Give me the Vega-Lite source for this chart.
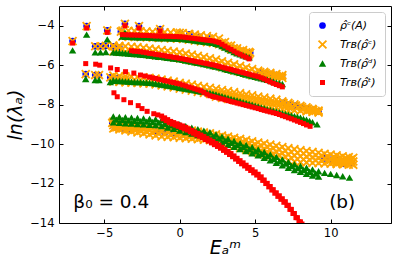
{
"$schema":"https://vega.github.io/schema/vega-lite/v6.json",
"width":332,"height":217,
"autosize":{"type":"none"},
"padding":{"left":59,"top":6,"right":7,"bottom":46},
"config":{"view":{"stroke":null},"font":"DejaVu Sans"},
"resolve":{"axis":{"x":"independent","y":"independent"}},
"layer":[
{
"data":{"values":[
{"s":"a","x":-7.1,"y":-4.78},{"s":"a","x":-6.17,"y":-4.02},{"s":"a","x":-4.8,"y":-4.24},{"s":"a","x":-3.63,"y":-3.9},{"s":"a","x":-2.7,"y":-4.02},{"s":"a","x":-1.3,"y":-4.17},{"s":"a","x":-3.9,"y":-4.3},{"s":"a","x":0,"y":-4.36},{"s":"a","x":0.64,"y":-4.44},{"s":"a","x":1.3,"y":-4.56},{"s":"a","x":1.96,"y":-4.65},{"s":"a","x":3.57,"y":-5.15},{"s":"a","x":4.12,"y":-5.29},{"s":"a","x":4.67,"y":-5.37},
{"s":"a","x":-5.6,"y":-5.04},{"s":"a","x":-5.25,"y":-5.04},{"s":"a","x":-4.9,"y":-5.02},{"s":"a","x":-4.4,"y":-5.05},{"s":"a","x":-4.0,"y":-5.1},{"s":"a","x":5.33,"y":-6.35},{"s":"a","x":5.7,"y":-6.4},{"s":"a","x":6.0,"y":-6.45},{"s":"a","x":6.35,"y":-6.5},{"s":"a","x":6.77,"y":-6.56},
{"s":"a","x":-6.23,"y":-6.45},{"s":"a","x":-5.6,"y":-6.5},{"s":"a","x":-5.35,"y":-6.5},{"s":"a","x":-4.6,"y":-6.62},{"s":"a","x":-4.1,"y":-6.65},{"s":"a","x":-3.6,"y":-6.72},{"s":"a","x":6.87,"y":-7.91},{"s":"a","x":7.3,"y":-7.98},{"s":"a","x":7.7,"y":-8.05},{"s":"a","x":8.1,"y":-8.12},{"s":"a","x":8.5,"y":-8.2},{"s":"a","x":8.85,"y":-8.26},{"s":"a","x":9.19,"y":-8.34},
{"s":"a","x":-4.47,"y":-8.93},{"s":"a","x":-4.2,"y":-9.0},{"s":"a","x":-3.9,"y":-8.98},{"s":"a","x":-3.6,"y":-9.05},{"s":"a","x":-3.3,"y":-9.1},{"s":"a","x":-3.0,"y":-9.12},{"s":"a","x":-2.75,"y":-9.18},{"s":"a","x":-4.3,"y":-9.15},{"s":"a","x":-3.8,"y":-9.2},{"s":"a","x":-3.3,"y":-9.25},{"s":"a","x":-1.5,"y":-9.35},{"s":"a","x":-1.0,"y":-9.42},{"s":"a","x":-0.5,"y":-9.48},{"s":"a","x":9.6,"y":-10.72},{"s":"a","x":10.0,"y":-10.8},{"s":"a","x":10.3,"y":-10.72},{"s":"a","x":10.4,"y":-10.9},{"s":"a","x":10.8,"y":-10.88},{"s":"a","x":11.1,"y":-10.8},{"s":"a","x":11.4,"y":-10.95},{"s":"a","x":10.9,"y":-11.0},

{"s":"b","x":-7.1,"y":-4.78},{"s":"b","x":-6.17,"y":-4.02},{"s":"b","x":-4.8,"y":-4.24},{"s":"b","x":-3.63,"y":-3.9},{"s":"b","x":-2.7,"y":-4.02},{"s":"b","x":-1.3,"y":-4.17},{"s":"b","x":-3.9,"y":-4.3},{"s":"b","x":0,"y":-4.36},{"s":"b","x":0.64,"y":-4.44},{"s":"b","x":1.3,"y":-4.56},{"s":"b","x":1.96,"y":-4.65},{"s":"b","x":3.57,"y":-5.15},{"s":"b","x":4.12,"y":-5.29},{"s":"b","x":4.67,"y":-5.37},
{"s":"b","x":-5.6,"y":-5.04},{"s":"b","x":-5.25,"y":-5.04},{"s":"b","x":-4.9,"y":-5.02},{"s":"b","x":-4.4,"y":-5.05},{"s":"b","x":-4.0,"y":-5.1},{"s":"b","x":5.33,"y":-6.35},{"s":"b","x":5.7,"y":-6.4},{"s":"b","x":6.0,"y":-6.45},{"s":"b","x":6.35,"y":-6.5},{"s":"b","x":6.77,"y":-6.56},
{"s":"b","x":-6.23,"y":-6.45},{"s":"b","x":-5.6,"y":-6.5},{"s":"b","x":-5.35,"y":-6.5},{"s":"b","x":-4.6,"y":-6.62},{"s":"b","x":-4.1,"y":-6.65},{"s":"b","x":-3.6,"y":-6.72},{"s":"b","x":6.87,"y":-7.91},{"s":"b","x":7.3,"y":-7.98},{"s":"b","x":7.7,"y":-8.05},{"s":"b","x":8.1,"y":-8.12},{"s":"b","x":8.5,"y":-8.2},{"s":"b","x":8.85,"y":-8.26},{"s":"b","x":9.19,"y":-8.34},
{"s":"b","x":-4.47,"y":-8.93},{"s":"b","x":-4.2,"y":-9.0},{"s":"b","x":-3.9,"y":-8.98},{"s":"b","x":-3.6,"y":-9.05},{"s":"b","x":-3.3,"y":-9.1},{"s":"b","x":-3.0,"y":-9.12},{"s":"b","x":-2.75,"y":-9.18},{"s":"b","x":-4.3,"y":-9.15},{"s":"b","x":-3.8,"y":-9.2},{"s":"b","x":-3.3,"y":-9.25},{"s":"b","x":9.6,"y":-10.72},{"s":"b","x":10.0,"y":-10.8},{"s":"b","x":10.3,"y":-10.72},{"s":"b","x":10.4,"y":-10.9},{"s":"b","x":10.8,"y":-10.88},{"s":"b","x":11.1,"y":-10.8},{"s":"b","x":11.4,"y":-10.95},{"s":"b","x":10.9,"y":-11.0},

{"s":"b","x":-3.8,"y":-4.25},{"s":"b","x":-3.4,"y":-4.26},{"s":"b","x":-3.0,"y":-4.27},{"s":"b","x":-2.6,"y":-4.28},{"s":"b","x":-2.2,"y":-4.29},{"s":"b","x":-1.8,"y":-4.31},{"s":"b","x":-1.4,"y":-4.32},{"s":"b","x":-1.0,"y":-4.33},{"s":"b","x":-0.6,"y":-4.34},{"s":"b","x":-0.2,"y":-4.35},{"s":"b","x":0.2,"y":-4.37},{"s":"b","x":0.6,"y":-4.41},{"s":"b","x":1.0,"y":-4.45},{"s":"b","x":1.4,"y":-4.49},{"s":"b","x":1.8,"y":-4.53},{"s":"b","x":2.2,"y":-4.57},{"s":"b","x":2.6,"y":-4.65},{"s":"b","x":3.0,"y":-4.83},{"s":"b","x":3.4,"y":-5.01},{"s":"b","x":3.8,"y":-5.15},{"s":"b","x":4.2,"y":-5.24},{"s":"b","x":4.6,"y":-5.33},
{"s":"b","x":-3.8,"y":-4.55},{"s":"b","x":-3.4,"y":-4.56},{"s":"b","x":-3.0,"y":-4.57},{"s":"b","x":-2.6,"y":-4.58},{"s":"b","x":-2.2,"y":-4.59},{"s":"b","x":-1.8,"y":-4.61},{"s":"b","x":-1.4,"y":-4.62},{"s":"b","x":-1.0,"y":-4.63},{"s":"b","x":-0.6,"y":-4.64},{"s":"b","x":-0.2,"y":-4.65},{"s":"b","x":0.2,"y":-4.67},{"s":"b","x":0.6,"y":-4.71},{"s":"b","x":1.0,"y":-4.75},{"s":"b","x":1.4,"y":-4.79},{"s":"b","x":1.8,"y":-4.83},{"s":"b","x":2.2,"y":-4.87},{"s":"b","x":2.6,"y":-4.93},{"s":"b","x":3.0,"y":-5.05},{"s":"b","x":3.4,"y":-5.2},{"s":"b","x":3.8,"y":-5.3},{"s":"b","x":4.2,"y":-5.38},{"s":"b","x":4.6,"y":-5.45},
{"s":"b","x":-3.6,"y":-4.41},{"s":"b","x":-3.2,"y":-4.42},{"s":"b","x":-2.8,"y":-4.43},{"s":"b","x":-2.4,"y":-4.44},{"s":"b","x":-2.0,"y":-4.45},{"s":"b","x":-1.6,"y":-4.47},{"s":"b","x":-1.2,"y":-4.48},{"s":"b","x":-0.8,"y":-4.49},{"s":"b","x":-0.4,"y":-4.5},{"s":"b","x":0,"y":-4.51},{"s":"b","x":0.4,"y":-4.54},{"s":"b","x":0.8,"y":-4.58},{"s":"b","x":1.2,"y":-4.62},{"s":"b","x":1.6,"y":-4.66},{"s":"b","x":2.0,"y":-4.7},{"s":"b","x":2.4,"y":-4.76},{"s":"b","x":2.8,"y":-4.87},{"s":"b","x":3.2,"y":-5.02},{"s":"b","x":3.6,"y":-5.17},{"s":"b","x":4.0,"y":-5.27},{"s":"b","x":4.4,"y":-5.35},

{"s":"b","x":-4.4,"y":-5.0},{"s":"b","x":-4.0,"y":-5.02},{"s":"b","x":-3.6,"y":-5.04},{"s":"b","x":-3.2,"y":-5.07},{"s":"b","x":-2.8,"y":-5.09},{"s":"b","x":-2.4,"y":-5.12},{"s":"b","x":-2.0,"y":-5.16},{"s":"b","x":-1.6,"y":-5.2},{"s":"b","x":-1.2,"y":-5.23},{"s":"b","x":-0.8,"y":-5.27},{"s":"b","x":-0.4,"y":-5.31},{"s":"b","x":0,"y":-5.35},{"s":"b","x":0.4,"y":-5.41},{"s":"b","x":0.8,"y":-5.47},{"s":"b","x":1.2,"y":-5.53},{"s":"b","x":1.6,"y":-5.59},{"s":"b","x":2.0,"y":-5.65},{"s":"b","x":2.4,"y":-5.72},{"s":"b","x":2.8,"y":-5.8},{"s":"b","x":3.2,"y":-5.88},{"s":"b","x":3.6,"y":-5.96},{"s":"b","x":4.0,"y":-6.04},{"s":"b","x":4.4,"y":-6.12},{"s":"b","x":4.8,"y":-6.2},{"s":"b","x":5.2,"y":-6.28},{"s":"b","x":5.6,"y":-6.34},{"s":"b","x":6.0,"y":-6.39},{"s":"b","x":6.4,"y":-6.45},{"s":"b","x":6.8,"y":-6.5},
{"s":"b","x":-4.4,"y":-5.3},{"s":"b","x":-4.0,"y":-5.32},{"s":"b","x":-3.6,"y":-5.34},{"s":"b","x":-3.2,"y":-5.37},{"s":"b","x":-2.8,"y":-5.39},{"s":"b","x":-2.4,"y":-5.42},{"s":"b","x":-2.0,"y":-5.46},{"s":"b","x":-1.6,"y":-5.5},{"s":"b","x":-1.2,"y":-5.53},{"s":"b","x":-0.8,"y":-5.57},{"s":"b","x":-0.4,"y":-5.61},{"s":"b","x":0,"y":-5.65},{"s":"b","x":0.4,"y":-5.71},{"s":"b","x":0.8,"y":-5.77},{"s":"b","x":1.2,"y":-5.83},{"s":"b","x":1.6,"y":-5.89},{"s":"b","x":2.0,"y":-5.95},{"s":"b","x":2.4,"y":-6.02},{"s":"b","x":2.8,"y":-6.1},{"s":"b","x":3.2,"y":-6.18},{"s":"b","x":3.6,"y":-6.26},{"s":"b","x":4.0,"y":-6.34},{"s":"b","x":4.4,"y":-6.42},{"s":"b","x":4.8,"y":-6.5},{"s":"b","x":5.2,"y":-6.56},{"s":"b","x":5.6,"y":-6.58},{"s":"b","x":6.0,"y":-6.6},{"s":"b","x":6.4,"y":-6.62},{"s":"b","x":6.8,"y":-6.65},
{"s":"b","x":-4.2,"y":-5.16},{"s":"b","x":-3.8,"y":-5.18},{"s":"b","x":-3.4,"y":-5.21},{"s":"b","x":-3.0,"y":-5.23},{"s":"b","x":-2.6,"y":-5.26},{"s":"b","x":-2.2,"y":-5.29},{"s":"b","x":-1.8,"y":-5.33},{"s":"b","x":-1.4,"y":-5.37},{"s":"b","x":-1.0,"y":-5.4},{"s":"b","x":-0.6,"y":-5.44},{"s":"b","x":-0.2,"y":-5.48},{"s":"b","x":0.2,"y":-5.53},{"s":"b","x":0.6,"y":-5.59},{"s":"b","x":1.0,"y":-5.65},{"s":"b","x":1.4,"y":-5.71},{"s":"b","x":1.8,"y":-5.77},{"s":"b","x":2.2,"y":-5.84},{"s":"b","x":2.6,"y":-5.91},{"s":"b","x":3.0,"y":-5.99},{"s":"b","x":3.4,"y":-6.07},{"s":"b","x":3.8,"y":-6.15},{"s":"b","x":4.2,"y":-6.23},{"s":"b","x":4.6,"y":-6.31},{"s":"b","x":5.0,"y":-6.39},{"s":"b","x":5.4,"y":-6.44},{"s":"b","x":5.8,"y":-6.48},{"s":"b","x":6.2,"y":-6.52},{"s":"b","x":6.6,"y":-6.56},

{"s":"b","x":-4.4,"y":-6.53},{"s":"b","x":-4.0,"y":-6.55},{"s":"b","x":-3.6,"y":-6.57},{"s":"b","x":-3.2,"y":-6.59},{"s":"b","x":-2.8,"y":-6.6},{"s":"b","x":-2.4,"y":-6.62},{"s":"b","x":-2.0,"y":-6.64},{"s":"b","x":-1.6,"y":-6.68},{"s":"b","x":-1.2,"y":-6.73},{"s":"b","x":-0.8,"y":-6.78},{"s":"b","x":-0.4,"y":-6.83},{"s":"b","x":0,"y":-6.89},{"s":"b","x":0.4,"y":-6.94},{"s":"b","x":0.8,"y":-6.99},{"s":"b","x":1.2,"y":-7.05},{"s":"b","x":1.6,"y":-7.1},{"s":"b","x":2.0,"y":-7.15},{"s":"b","x":2.4,"y":-7.2},{"s":"b","x":2.8,"y":-7.26},{"s":"b","x":3.2,"y":-7.31},{"s":"b","x":3.6,"y":-7.37},{"s":"b","x":4.0,"y":-7.42},{"s":"b","x":4.4,"y":-7.48},{"s":"b","x":4.8,"y":-7.53},{"s":"b","x":5.2,"y":-7.59},{"s":"b","x":5.6,"y":-7.64},{"s":"b","x":6.0,"y":-7.7},{"s":"b","x":6.4,"y":-7.75},{"s":"b","x":6.8,"y":-7.83},{"s":"b","x":7.2,"y":-7.91},{"s":"b","x":7.6,"y":-7.99},{"s":"b","x":8.0,"y":-8.06},{"s":"b","x":8.4,"y":-8.14},{"s":"b","x":8.8,"y":-8.22},{"s":"b","x":9.2,"y":-8.3},
{"s":"b","x":-4.4,"y":-6.83},{"s":"b","x":-4.0,"y":-6.85},{"s":"b","x":-3.6,"y":-6.87},{"s":"b","x":-3.2,"y":-6.89},{"s":"b","x":-2.8,"y":-6.9},{"s":"b","x":-2.4,"y":-6.92},{"s":"b","x":-2.0,"y":-6.94},{"s":"b","x":-1.6,"y":-6.98},{"s":"b","x":-1.2,"y":-7.03},{"s":"b","x":-0.8,"y":-7.08},{"s":"b","x":-0.4,"y":-7.13},{"s":"b","x":0,"y":-7.19},{"s":"b","x":0.4,"y":-7.24},{"s":"b","x":0.8,"y":-7.29},{"s":"b","x":1.2,"y":-7.35},{"s":"b","x":1.6,"y":-7.4},{"s":"b","x":2.0,"y":-7.45},{"s":"b","x":2.4,"y":-7.6},{"s":"b","x":2.8,"y":-7.66},{"s":"b","x":3.2,"y":-7.71},{"s":"b","x":3.6,"y":-7.77},{"s":"b","x":4.0,"y":-7.82},{"s":"b","x":4.4,"y":-7.88},{"s":"b","x":4.8,"y":-7.93},{"s":"b","x":5.2,"y":-7.99},{"s":"b","x":5.6,"y":-8.04},{"s":"b","x":6.0,"y":-8.1},{"s":"b","x":6.4,"y":-8.15},{"s":"b","x":6.8,"y":-8.23},{"s":"b","x":7.2,"y":-8.31},{"s":"b","x":7.6,"y":-8.29},{"s":"b","x":8.0,"y":-8.31},{"s":"b","x":8.4,"y":-8.34},{"s":"b","x":8.8,"y":-8.37},{"s":"b","x":9.2,"y":-8.4},
{"s":"b","x":2.4,"y":-7.4},{"s":"b","x":2.8,"y":-7.46},{"s":"b","x":3.2,"y":-7.51},{"s":"b","x":3.6,"y":-7.57},{"s":"b","x":4.0,"y":-7.62},{"s":"b","x":4.4,"y":-7.68},{"s":"b","x":4.8,"y":-7.73},{"s":"b","x":5.2,"y":-7.79},{"s":"b","x":5.6,"y":-7.84},{"s":"b","x":6.0,"y":-7.9},{"s":"b","x":6.4,"y":-7.95},{"s":"b","x":6.8,"y":-8.03},{"s":"b","x":7.2,"y":-8.11},
{"s":"b","x":-4.2,"y":-6.69},{"s":"b","x":-3.8,"y":-6.71},{"s":"b","x":-3.4,"y":-6.73},{"s":"b","x":-3.0,"y":-6.75},{"s":"b","x":-2.6,"y":-6.76},{"s":"b","x":-2.2,"y":-6.78},{"s":"b","x":-1.8,"y":-6.81},{"s":"b","x":-1.4,"y":-6.86},{"s":"b","x":-1.0,"y":-6.91},{"s":"b","x":-0.6,"y":-6.96},{"s":"b","x":-0.2,"y":-7.01},{"s":"b","x":0.2,"y":-7.07},{"s":"b","x":0.6,"y":-7.12},{"s":"b","x":1.0,"y":-7.17},{"s":"b","x":1.4,"y":-7.23},{"s":"b","x":1.8,"y":-7.28},{"s":"b","x":2.2,"y":-7.35},{"s":"b","x":2.6,"y":-7.43},{"s":"b","x":3.0,"y":-7.49},{"s":"b","x":3.4,"y":-7.54},{"s":"b","x":3.8,"y":-7.6},{"s":"b","x":4.2,"y":-7.65},{"s":"b","x":4.6,"y":-7.71},{"s":"b","x":5.0,"y":-7.76},{"s":"b","x":5.4,"y":-7.82},{"s":"b","x":5.8,"y":-7.87},{"s":"b","x":6.2,"y":-7.93},{"s":"b","x":6.6,"y":-7.99},{"s":"b","x":7.0,"y":-8.07},{"s":"b","x":7.4,"y":-8.13},{"s":"b","x":7.8,"y":-8.16},{"s":"b","x":8.2,"y":-8.21},{"s":"b","x":8.6,"y":-8.27},{"s":"b","x":9.0,"y":-8.32},

{"s":"b","x":-4.4,"y":-8.86},{"s":"b","x":-4.0,"y":-8.89},{"s":"b","x":-3.6,"y":-8.92},{"s":"b","x":-3.2,"y":-8.95},{"s":"b","x":-2.8,"y":-8.98},{"s":"b","x":-2.4,"y":-9.01},{"s":"b","x":-2.0,"y":-9.05},{"s":"b","x":-1.6,"y":-9.08},{"s":"b","x":-1.2,"y":-9.11},{"s":"b","x":-0.8,"y":-9.15},{"s":"b","x":-0.4,"y":-9.2},{"s":"b","x":0,"y":-9.24},{"s":"b","x":0.4,"y":-9.28},{"s":"b","x":0.8,"y":-9.32},{"s":"b","x":1.2,"y":-9.37},{"s":"b","x":1.6,"y":-9.41},{"s":"b","x":2.0,"y":-9.45},{"s":"b","x":2.4,"y":-9.51},{"s":"b","x":2.8,"y":-9.57},{"s":"b","x":3.2,"y":-9.62},{"s":"b","x":3.6,"y":-9.68},{"s":"b","x":4.0,"y":-9.74},{"s":"b","x":4.4,"y":-9.8},{"s":"b","x":4.8,"y":-9.86},{"s":"b","x":5.2,"y":-9.92},{"s":"b","x":5.6,"y":-9.97},{"s":"b","x":6.0,"y":-10.03},{"s":"b","x":6.4,"y":-10.09},{"s":"b","x":6.8,"y":-10.15},{"s":"b","x":7.2,"y":-10.21},{"s":"b","x":7.6,"y":-10.26},{"s":"b","x":8.0,"y":-10.31},{"s":"b","x":8.4,"y":-10.35},{"s":"b","x":8.8,"y":-10.4},{"s":"b","x":9.2,"y":-10.44},{"s":"b","x":9.6,"y":-10.49},{"s":"b","x":10.0,"y":-10.53},{"s":"b","x":10.4,"y":-10.57},{"s":"b","x":10.8,"y":-10.62},{"s":"b","x":11.2,"y":-10.66},{"s":"b","x":11.5,"y":-10.7},
{"s":"b","x":-4.4,"y":-9.04},{"s":"b","x":-4.0,"y":-9.08},{"s":"b","x":-3.6,"y":-9.12},{"s":"b","x":-3.2,"y":-9.16},{"s":"b","x":-2.8,"y":-9.2},{"s":"b","x":-2.4,"y":-9.24},{"s":"b","x":-2.0,"y":-9.28},{"s":"b","x":-1.6,"y":-9.32},{"s":"b","x":-1.2,"y":-9.36},{"s":"b","x":-0.8,"y":-9.39},{"s":"b","x":-0.4,"y":-9.43},{"s":"b","x":0,"y":-9.46},{"s":"b","x":0.4,"y":-9.49},{"s":"b","x":0.8,"y":-9.53},{"s":"b","x":1.2,"y":-9.56},{"s":"b","x":1.6,"y":-9.6},{"s":"b","x":2.0,"y":-9.63},{"s":"b","x":2.4,"y":-9.7},{"s":"b","x":2.8,"y":-9.77},{"s":"b","x":3.2,"y":-9.83},{"s":"b","x":3.6,"y":-9.9},{"s":"b","x":4.0,"y":-9.97},{"s":"b","x":4.4,"y":-10.04},{"s":"b","x":4.8,"y":-10.11},{"s":"b","x":5.2,"y":-10.18},{"s":"b","x":5.6,"y":-10.25},{"s":"b","x":6.0,"y":-10.32},{"s":"b","x":6.4,"y":-10.39},{"s":"b","x":6.8,"y":-10.46},{"s":"b","x":7.2,"y":-10.53},{"s":"b","x":7.6,"y":-10.58},{"s":"b","x":8.0,"y":-10.62},{"s":"b","x":8.4,"y":-10.64},{"s":"b","x":8.8,"y":-10.68},{"s":"b","x":9.2,"y":-10.7},{"s":"b","x":9.6,"y":-10.74},{"s":"b","x":10.0,"y":-10.76},{"s":"b","x":10.4,"y":-10.79},{"s":"b","x":10.8,"y":-10.82},{"s":"b","x":11.2,"y":-10.85},{"s":"b","x":11.5,"y":-10.88},
{"s":"b","x":-4.4,"y":-9.21},{"s":"b","x":-4.0,"y":-9.26},{"s":"b","x":-3.6,"y":-9.31},{"s":"b","x":-3.2,"y":-9.36},{"s":"b","x":-2.8,"y":-9.41},{"s":"b","x":-2.4,"y":-9.46},{"s":"b","x":-2.0,"y":-9.51},{"s":"b","x":-1.6,"y":-9.56},{"s":"b","x":-1.2,"y":-9.61},{"s":"b","x":-0.8,"y":-9.63},{"s":"b","x":-0.4,"y":-9.65},{"s":"b","x":0,"y":-9.68},{"s":"b","x":0.4,"y":-9.7},{"s":"b","x":0.8,"y":-9.73},{"s":"b","x":1.2,"y":-9.75},{"s":"b","x":1.6,"y":-9.78},{"s":"b","x":2.0,"y":-9.8},{"s":"b","x":2.4,"y":-9.88},{"s":"b","x":2.8,"y":-9.96},{"s":"b","x":3.2,"y":-10.04},{"s":"b","x":3.6,"y":-10.12},{"s":"b","x":4.0,"y":-10.2},{"s":"b","x":4.4,"y":-10.28},{"s":"b","x":4.8,"y":-10.36},{"s":"b","x":5.2,"y":-10.44},{"s":"b","x":5.6,"y":-10.52},{"s":"b","x":6.0,"y":-10.6},{"s":"b","x":6.4,"y":-10.68},{"s":"b","x":6.8,"y":-10.76},{"s":"b","x":7.2,"y":-10.84},{"s":"b","x":7.6,"y":-10.9},{"s":"b","x":8.0,"y":-10.92},{"s":"b","x":8.4,"y":-10.93},{"s":"b","x":8.8,"y":-10.95},{"s":"b","x":9.2,"y":-10.96},{"s":"b","x":9.6,"y":-10.98},{"s":"b","x":10.0,"y":-10.99},{"s":"b","x":10.4,"y":-11.01},{"s":"b","x":10.8,"y":-11.02},{"s":"b","x":11.2,"y":-11.04},{"s":"b","x":11.5,"y":-11.05},
{"s":"b","x":-4.2,"y":-8.97},{"s":"b","x":-3.8,"y":-9.0},{"s":"b","x":-3.4,"y":-9.04},{"s":"b","x":-3.0,"y":-9.07},{"s":"b","x":-2.6,"y":-9.11},{"s":"b","x":-2.2,"y":-9.15},{"s":"b","x":-1.8,"y":-9.18},{"s":"b","x":-1.4,"y":-9.22},{"s":"b","x":-1.0,"y":-9.25},{"s":"b","x":-0.6,"y":-9.29},{"s":"b","x":-0.2,"y":-9.33},{"s":"b","x":0.2,"y":-9.37},{"s":"b","x":0.6,"y":-9.41},{"s":"b","x":1.0,"y":-9.45},{"s":"b","x":1.4,"y":-9.49},{"s":"b","x":1.8,"y":-9.52},{"s":"b","x":2.2,"y":-9.57},{"s":"b","x":2.6,"y":-9.64},{"s":"b","x":3.0,"y":-9.7},{"s":"b","x":3.4,"y":-9.76},{"s":"b","x":3.8,"y":-9.82},{"s":"b","x":4.2,"y":-9.89},{"s":"b","x":4.6,"y":-9.95},{"s":"b","x":5.0,"y":-10.02},{"s":"b","x":5.4,"y":-10.08},{"s":"b","x":5.8,"y":-10.14},{"s":"b","x":6.2,"y":-10.21},{"s":"b","x":6.6,"y":-10.27},{"s":"b","x":7.0,"y":-10.34},{"s":"b","x":7.4,"y":-10.4},{"s":"b","x":7.8,"y":-10.44},{"s":"b","x":8.2,"y":-10.48},{"s":"b","x":8.6,"y":-10.52},{"s":"b","x":9.0,"y":-10.56},{"s":"b","x":9.4,"y":-10.59},{"s":"b","x":9.8,"y":-10.63},{"s":"b","x":10.2,"y":-10.66},{"s":"b","x":10.6,"y":-10.7},{"s":"b","x":11.0,"y":-10.74},{"s":"b","x":11.35,"y":-10.77},
{"s":"b","x":-4.2,"y":-9.15},{"s":"b","x":-3.8,"y":-9.19},{"s":"b","x":-3.4,"y":-9.24},{"s":"b","x":-3.0,"y":-9.28},{"s":"b","x":-2.6,"y":-9.33},{"s":"b","x":-2.2,"y":-9.37},{"s":"b","x":-1.8,"y":-9.42},{"s":"b","x":-1.4,"y":-9.46},{"s":"b","x":-1.0,"y":-9.5},{"s":"b","x":-0.6,"y":-9.53},{"s":"b","x":-0.2,"y":-9.56},{"s":"b","x":0.2,"y":-9.58},{"s":"b","x":0.6,"y":-9.61},{"s":"b","x":1.0,"y":-9.64},{"s":"b","x":1.4,"y":-9.67},{"s":"b","x":1.8,"y":-9.7},{"s":"b","x":2.2,"y":-9.75},{"s":"b","x":2.6,"y":-9.83},{"s":"b","x":3.0,"y":-9.9},{"s":"b","x":3.4,"y":-9.97},{"s":"b","x":3.8,"y":-10.05},{"s":"b","x":4.2,"y":-10.12},{"s":"b","x":4.6,"y":-10.2},{"s":"b","x":5.0,"y":-10.27},{"s":"b","x":5.4,"y":-10.35},{"s":"b","x":5.8,"y":-10.42},{"s":"b","x":6.2,"y":-10.5},{"s":"b","x":6.6,"y":-10.57},{"s":"b","x":7.0,"y":-10.65},{"s":"b","x":7.4,"y":-10.71},{"s":"b","x":7.8,"y":-10.76},{"s":"b","x":8.2,"y":-10.78},{"s":"b","x":8.6,"y":-10.8},{"s":"b","x":9.0,"y":-10.82},{"s":"b","x":9.4,"y":-10.85},{"s":"b","x":9.8,"y":-10.87},{"s":"b","x":10.2,"y":-10.89},{"s":"b","x":10.6,"y":-10.91},{"s":"b","x":11.0,"y":-10.93},{"s":"b","x":11.35,"y":-10.96},

{"s":"c","x":-7.1,"y":-5.25},{"s":"c","x":-6.17,"y":-4.45},{"s":"c","x":-4.8,"y":-4.69},{"s":"c","x":-3.63,"y":-4.35},{"s":"c","x":-2.7,"y":-4.47},{"s":"c","x":-1.3,"y":-4.62},
{"s":"c","x":-5.6,"y":-5.35},{"s":"c","x":-5.25,"y":-5.35},{"s":"c","x":-4.9,"y":-5.33},
{"s":"c","x":-6.23,"y":-6.7},{"s":"c","x":-5.6,"y":-6.75},{"s":"c","x":-5.35,"y":-6.75},{"s":"c","x":-4.6,"y":-6.85},
{"s":"c","x":-3.8,"y":-4.55},{"s":"c","x":-3.4,"y":-4.56},{"s":"c","x":-3.0,"y":-4.57},{"s":"c","x":-2.6,"y":-4.58},{"s":"c","x":-2.2,"y":-4.59},{"s":"c","x":-1.8,"y":-4.61},{"s":"c","x":-1.4,"y":-4.62},{"s":"c","x":-1.0,"y":-4.63},{"s":"c","x":-0.6,"y":-4.64},{"s":"c","x":-0.2,"y":-4.65},{"s":"c","x":0.2,"y":-4.67},{"s":"c","x":0.6,"y":-4.71},{"s":"c","x":1.0,"y":-4.75},{"s":"c","x":1.4,"y":-4.79},{"s":"c","x":1.8,"y":-4.83},{"s":"c","x":2.2,"y":-4.87},{"s":"c","x":2.6,"y":-4.95},{"s":"c","x":3.0,"y":-5.1},{"s":"c","x":3.4,"y":-5.25},{"s":"c","x":3.8,"y":-5.4},{"s":"c","x":4.2,"y":-5.5},{"s":"c","x":4.6,"y":-5.6},
{"s":"c","x":-3.6,"y":-4.56},{"s":"c","x":-3.2,"y":-4.57},{"s":"c","x":-2.8,"y":-4.58},{"s":"c","x":-2.4,"y":-4.59},{"s":"c","x":-2.0,"y":-4.6},{"s":"c","x":-1.6,"y":-4.62},{"s":"c","x":-1.2,"y":-4.63},{"s":"c","x":-0.8,"y":-4.64},{"s":"c","x":-0.4,"y":-4.65},{"s":"c","x":0,"y":-4.66},{"s":"c","x":0.4,"y":-4.69},{"s":"c","x":0.8,"y":-4.73},{"s":"c","x":1.2,"y":-4.77},{"s":"c","x":1.6,"y":-4.81},{"s":"c","x":2.0,"y":-4.85},{"s":"c","x":2.4,"y":-4.91},{"s":"c","x":2.8,"y":-5.03},{"s":"c","x":3.2,"y":-5.18},{"s":"c","x":3.6,"y":-5.33},{"s":"c","x":4.0,"y":-5.45},{"s":"c","x":4.4,"y":-5.55},
{"s":"c","x":-4.4,"y":-5.35},{"s":"c","x":-4.0,"y":-5.37},{"s":"c","x":-3.6,"y":-5.39},{"s":"c","x":-3.2,"y":-5.42},{"s":"c","x":-2.8,"y":-5.44},{"s":"c","x":-2.4,"y":-5.47},{"s":"c","x":-2.0,"y":-5.51},{"s":"c","x":-1.6,"y":-5.55},{"s":"c","x":-1.2,"y":-5.58},{"s":"c","x":-0.8,"y":-5.62},{"s":"c","x":-0.4,"y":-5.66},{"s":"c","x":0,"y":-5.7},{"s":"c","x":0.4,"y":-5.76},{"s":"c","x":0.8,"y":-5.82},{"s":"c","x":1.2,"y":-5.88},{"s":"c","x":1.6,"y":-5.94},{"s":"c","x":2.0,"y":-6.0},{"s":"c","x":2.4,"y":-6.07},{"s":"c","x":2.8,"y":-6.15},{"s":"c","x":3.2,"y":-6.23},{"s":"c","x":3.6,"y":-6.31},{"s":"c","x":4.0,"y":-6.39},{"s":"c","x":4.4,"y":-6.47},{"s":"c","x":4.8,"y":-6.55},{"s":"c","x":5.2,"y":-6.63},{"s":"c","x":5.6,"y":-6.7},{"s":"c","x":6.0,"y":-6.78},{"s":"c","x":6.4,"y":-6.87},{"s":"c","x":6.8,"y":-6.95},
{"s":"c","x":-4.2,"y":-5.36},{"s":"c","x":-3.8,"y":-5.38},{"s":"c","x":-3.4,"y":-5.41},{"s":"c","x":-3.0,"y":-5.43},{"s":"c","x":-2.6,"y":-5.46},{"s":"c","x":-2.2,"y":-5.49},{"s":"c","x":-1.8,"y":-5.53},{"s":"c","x":-1.4,"y":-5.57},{"s":"c","x":-1.0,"y":-5.6},{"s":"c","x":-0.6,"y":-5.64},{"s":"c","x":-0.2,"y":-5.68},{"s":"c","x":0.2,"y":-5.73},{"s":"c","x":0.6,"y":-5.79},{"s":"c","x":1.0,"y":-5.85},{"s":"c","x":1.4,"y":-5.91},{"s":"c","x":1.8,"y":-5.97},{"s":"c","x":2.2,"y":-6.04},{"s":"c","x":2.6,"y":-6.11},{"s":"c","x":3.0,"y":-6.19},{"s":"c","x":3.4,"y":-6.27},{"s":"c","x":3.8,"y":-6.35},{"s":"c","x":4.2,"y":-6.43},{"s":"c","x":4.6,"y":-6.51},{"s":"c","x":5.0,"y":-6.59},{"s":"c","x":5.4,"y":-6.67},{"s":"c","x":5.8,"y":-6.74},{"s":"c","x":6.2,"y":-6.83},{"s":"c","x":6.6,"y":-6.91},
{"s":"c","x":-4.4,"y":-6.78},{"s":"c","x":-4.0,"y":-6.8},{"s":"c","x":-3.6,"y":-6.82},{"s":"c","x":-3.2,"y":-6.84},{"s":"c","x":-2.8,"y":-6.85},{"s":"c","x":-2.4,"y":-6.87},{"s":"c","x":-2.0,"y":-6.89},{"s":"c","x":-1.6,"y":-6.93},{"s":"c","x":-1.2,"y":-6.98},{"s":"c","x":-0.8,"y":-7.03},{"s":"c","x":-0.4,"y":-7.08},{"s":"c","x":0,"y":-7.14},{"s":"c","x":0.4,"y":-7.19},{"s":"c","x":0.8,"y":-7.24},{"s":"c","x":1.2,"y":-7.3},{"s":"c","x":1.6,"y":-7.35},{"s":"c","x":2.0,"y":-7.4},{"s":"c","x":2.4,"y":-7.48},{"s":"c","x":2.8,"y":-7.57},{"s":"c","x":3.2,"y":-7.66},{"s":"c","x":3.6,"y":-7.75},{"s":"c","x":4.0,"y":-7.83},{"s":"c","x":4.4,"y":-7.92},{"s":"c","x":4.8,"y":-8.0},{"s":"c","x":5.2,"y":-8.09},{"s":"c","x":5.6,"y":-8.18},{"s":"c","x":6.0,"y":-8.27},{"s":"c","x":6.4,"y":-8.35},{"s":"c","x":6.8,"y":-8.43},{"s":"c","x":7.2,"y":-8.51},{"s":"c","x":7.6,"y":-8.59},{"s":"c","x":8.0,"y":-8.66},{"s":"c","x":8.4,"y":-8.77},{"s":"c","x":8.8,"y":-8.89},{"s":"c","x":9.1,"y":-9.0},
{"s":"c","x":-4.2,"y":-6.79},{"s":"c","x":-3.8,"y":-6.81},{"s":"c","x":-3.4,"y":-6.83},{"s":"c","x":-3.0,"y":-6.85},{"s":"c","x":-2.6,"y":-6.86},{"s":"c","x":-2.2,"y":-6.88},{"s":"c","x":-1.8,"y":-6.91},{"s":"c","x":-1.4,"y":-6.96},{"s":"c","x":-1.0,"y":-7.01},{"s":"c","x":-0.6,"y":-7.06},{"s":"c","x":-0.2,"y":-7.11},{"s":"c","x":0.2,"y":-7.17},{"s":"c","x":0.6,"y":-7.22},{"s":"c","x":1.0,"y":-7.27},{"s":"c","x":1.4,"y":-7.33},{"s":"c","x":1.8,"y":-7.38},{"s":"c","x":2.2,"y":-7.44},{"s":"c","x":2.6,"y":-7.53},{"s":"c","x":3.0,"y":-7.62},{"s":"c","x":3.4,"y":-7.71},{"s":"c","x":3.8,"y":-7.79},{"s":"c","x":4.2,"y":-7.88},{"s":"c","x":4.6,"y":-7.96},{"s":"c","x":5.0,"y":-8.05},{"s":"c","x":5.4,"y":-8.14},{"s":"c","x":5.8,"y":-8.23},{"s":"c","x":6.2,"y":-8.31},{"s":"c","x":6.6,"y":-8.39},{"s":"c","x":7.0,"y":-8.47},{"s":"c","x":7.4,"y":-8.55},{"s":"c","x":7.8,"y":-8.63},{"s":"c","x":8.2,"y":-8.72},{"s":"c","x":8.6,"y":-8.83},
{"s":"c","x":-4.4,"y":-8.6},{"s":"c","x":-4.0,"y":-8.62},{"s":"c","x":-3.6,"y":-8.64},{"s":"c","x":-3.2,"y":-8.66},{"s":"c","x":-2.8,"y":-8.68},{"s":"c","x":-2.4,"y":-8.7},{"s":"c","x":-2.0,"y":-8.72},{"s":"c","x":-1.6,"y":-8.74},{"s":"c","x":-1.2,"y":-8.78},{"s":"c","x":-0.8,"y":-8.86},{"s":"c","x":-0.4,"y":-8.93},{"s":"c","x":0,"y":-9.01},{"s":"c","x":0.4,"y":-9.09},{"s":"c","x":0.8,"y":-9.17},{"s":"c","x":1.2,"y":-9.24},{"s":"c","x":1.6,"y":-9.32},{"s":"c","x":2.0,"y":-9.4},{"s":"c","x":2.4,"y":-9.51},{"s":"c","x":2.8,"y":-9.62},{"s":"c","x":3.2,"y":-9.73},{"s":"c","x":3.6,"y":-9.84},{"s":"c","x":4.0,"y":-9.95},{"s":"c","x":4.4,"y":-10.05},{"s":"c","x":4.8,"y":-10.16},{"s":"c","x":5.2,"y":-10.27},{"s":"c","x":5.6,"y":-10.4},{"s":"c","x":6.0,"y":-10.52},{"s":"c","x":6.4,"y":-10.65},{"s":"c","x":6.8,"y":-10.78},{"s":"c","x":7.2,"y":-10.9},{"s":"c","x":7.6,"y":-11.02},{"s":"c","x":8.0,"y":-11.11},{"s":"c","x":8.4,"y":-11.2},{"s":"c","x":8.8,"y":-11.29},{"s":"c","x":9.2,"y":-11.38},{"s":"c","x":9.6,"y":-11.46},{"s":"c","x":10.0,"y":-11.51},{"s":"c","x":10.4,"y":-11.57},{"s":"c","x":10.8,"y":-11.63},{"s":"c","x":11.25,"y":-11.7},
{"s":"c","x":-4.4,"y":-8.9},{"s":"c","x":-4.0,"y":-8.92},{"s":"c","x":-3.6,"y":-8.94},{"s":"c","x":-3.2,"y":-8.96},{"s":"c","x":-2.8,"y":-8.98},{"s":"c","x":-2.4,"y":-9.0},{"s":"c","x":-2.0,"y":-9.02},{"s":"c","x":-1.6,"y":-9.04},{"s":"c","x":-1.2,"y":-9.08},{"s":"c","x":-0.8,"y":-9.16},{"s":"c","x":-0.4,"y":-9.23},{"s":"c","x":0,"y":-9.31},{"s":"c","x":0.4,"y":-9.39},{"s":"c","x":0.8,"y":-9.47},{"s":"c","x":1.2,"y":-9.54},{"s":"c","x":1.6,"y":-9.62},{"s":"c","x":2.0,"y":-9.7},{"s":"c","x":2.4,"y":-9.81},{"s":"c","x":2.8,"y":-9.92},{"s":"c","x":3.2,"y":-10.03},{"s":"c","x":3.6,"y":-10.14},{"s":"c","x":4.0,"y":-10.25},{"s":"c","x":4.4,"y":-10.35},{"s":"c","x":4.8,"y":-10.46},{"s":"c","x":5.2,"y":-10.57},{"s":"c","x":5.6,"y":-10.7},{"s":"c","x":6.0,"y":-10.82},{"s":"c","x":6.4,"y":-10.95},{"s":"c","x":6.8,"y":-11.08},{"s":"c","x":7.2,"y":-11.2},{"s":"c","x":7.6,"y":-11.32},{"s":"c","x":8.0,"y":-11.41},{"s":"c","x":8.4,"y":-11.5},{"s":"c","x":8.8,"y":-11.59},{"s":"c","x":9.2,"y":-11.65},
{"s":"c","x":-4.2,"y":-8.76},{"s":"c","x":-3.8,"y":-8.78},{"s":"c","x":-3.4,"y":-8.8},{"s":"c","x":-3.0,"y":-8.82},{"s":"c","x":-2.6,"y":-8.84},{"s":"c","x":-2.2,"y":-8.86},{"s":"c","x":-1.8,"y":-8.88},{"s":"c","x":-1.4,"y":-8.91},{"s":"c","x":-1.0,"y":-8.97},{"s":"c","x":-0.6,"y":-9.05},{"s":"c","x":-0.2,"y":-9.12},{"s":"c","x":0.2,"y":-9.2},{"s":"c","x":0.6,"y":-9.28},{"s":"c","x":1.0,"y":-9.36},{"s":"c","x":1.4,"y":-9.43},{"s":"c","x":1.8,"y":-9.51},{"s":"c","x":2.2,"y":-9.61},{"s":"c","x":2.6,"y":-9.72},{"s":"c","x":3.0,"y":-9.83},{"s":"c","x":3.4,"y":-9.94},{"s":"c","x":3.8,"y":-10.05},{"s":"c","x":4.2,"y":-10.15},{"s":"c","x":4.6,"y":-10.26},{"s":"c","x":5.0,"y":-10.37},{"s":"c","x":5.4,"y":-10.49},{"s":"c","x":5.8,"y":-10.61},{"s":"c","x":6.2,"y":-10.74},{"s":"c","x":6.6,"y":-10.87},{"s":"c","x":7.0,"y":-10.99},{"s":"c","x":7.4,"y":-11.11},{"s":"c","x":7.8,"y":-11.22},{"s":"c","x":8.2,"y":-11.31},{"s":"c","x":8.6,"y":-11.4},{"s":"c","x":9.0,"y":-11.49},

{"s":"d","x":-7.1,"y":-4.88},{"s":"d","x":-6.17,"y":-4.12},{"s":"d","x":-4.8,"y":-4.34},{"s":"d","x":-3.63,"y":-4.0},{"s":"d","x":-2.7,"y":-4.12},{"s":"d","x":-1.3,"y":-4.27},
{"s":"d","x":-3.8,"y":-4.45},{"s":"d","x":-3.6,"y":-4.46},{"s":"d","x":-3.4,"y":-4.46},{"s":"d","x":-3.2,"y":-4.47},{"s":"d","x":-3.0,"y":-4.47},{"s":"d","x":-2.8,"y":-4.48},{"s":"d","x":-2.6,"y":-4.48},{"s":"d","x":-2.4,"y":-4.49},{"s":"d","x":-2.2,"y":-4.49},{"s":"d","x":-2.0,"y":-4.5},{"s":"d","x":-1.8,"y":-4.51},{"s":"d","x":-1.6,"y":-4.52},{"s":"d","x":-1.4,"y":-4.52},{"s":"d","x":-1.2,"y":-4.53},{"s":"d","x":-1.0,"y":-4.53},{"s":"d","x":-0.8,"y":-4.54},{"s":"d","x":-0.6,"y":-4.54},{"s":"d","x":-0.4,"y":-4.55},{"s":"d","x":-0.2,"y":-4.55},{"s":"d","x":0,"y":-4.56},{"s":"d","x":0.2,"y":-4.57},{"s":"d","x":0.4,"y":-4.59},{"s":"d","x":0.6,"y":-4.61},{"s":"d","x":0.8,"y":-4.63},{"s":"d","x":1.0,"y":-4.65},{"s":"d","x":1.2,"y":-4.67},{"s":"d","x":1.4,"y":-4.69},{"s":"d","x":1.6,"y":-4.71},{"s":"d","x":1.8,"y":-4.73},{"s":"d","x":2.0,"y":-4.75},{"s":"d","x":2.2,"y":-4.77},{"s":"d","x":2.4,"y":-4.81},{"s":"d","x":2.6,"y":-4.85},{"s":"d","x":2.8,"y":-4.94},{"s":"d","x":3.0,"y":-5.03},{"s":"d","x":3.2,"y":-5.12},{"s":"d","x":3.4,"y":-5.2},{"s":"d","x":3.6,"y":-5.29},{"s":"d","x":3.8,"y":-5.38},{"s":"d","x":4.0,"y":-5.45},{"s":"d","x":4.2,"y":-5.53},{"s":"d","x":4.4,"y":-5.6},{"s":"d","x":4.6,"y":-5.68},
{"s":"d","x":-3.2,"y":-5.27},{"s":"d","x":-3.0,"y":-5.29},{"s":"d","x":-2.8,"y":-5.3},{"s":"d","x":-2.6,"y":-5.32},{"s":"d","x":-2.4,"y":-5.34},{"s":"d","x":-2.2,"y":-5.37},{"s":"d","x":-2.0,"y":-5.4},{"s":"d","x":-1.8,"y":-5.42},{"s":"d","x":-1.6,"y":-5.45},{"s":"d","x":-1.4,"y":-5.47},{"s":"d","x":-1.2,"y":-5.49},{"s":"d","x":-1.0,"y":-5.52},{"s":"d","x":-0.8,"y":-5.55},{"s":"d","x":-0.6,"y":-5.57},{"s":"d","x":-0.4,"y":-5.6},{"s":"d","x":-0.2,"y":-5.62},{"s":"d","x":0,"y":-5.65},{"s":"d","x":0.2,"y":-5.68},{"s":"d","x":0.4,"y":-5.71},{"s":"d","x":0.6,"y":-5.74},{"s":"d","x":0.8,"y":-5.77},{"s":"d","x":1.0,"y":-5.8},{"s":"d","x":1.2,"y":-5.83},{"s":"d","x":1.4,"y":-5.86},{"s":"d","x":1.6,"y":-5.89},{"s":"d","x":1.8,"y":-5.92},{"s":"d","x":2.0,"y":-5.95},{"s":"d","x":2.2,"y":-5.98},{"s":"d","x":2.4,"y":-6.02},{"s":"d","x":2.6,"y":-6.06},{"s":"d","x":2.8,"y":-6.1},{"s":"d","x":3.0,"y":-6.14},{"s":"d","x":3.2,"y":-6.18},{"s":"d","x":3.4,"y":-6.22},{"s":"d","x":3.6,"y":-6.26},{"s":"d","x":3.8,"y":-6.3},{"s":"d","x":4.0,"y":-6.34},{"s":"d","x":4.2,"y":-6.38},{"s":"d","x":4.4,"y":-6.42},{"s":"d","x":4.6,"y":-6.46},{"s":"d","x":4.8,"y":-6.5},{"s":"d","x":5.0,"y":-6.54},{"s":"d","x":5.2,"y":-6.58},{"s":"d","x":5.4,"y":-6.64},{"s":"d","x":5.6,"y":-6.7},{"s":"d","x":5.8,"y":-6.78},{"s":"d","x":6.0,"y":-6.85},{"s":"d","x":6.2,"y":-6.92},{"s":"d","x":6.4,"y":-6.98},{"s":"d","x":6.6,"y":-7.04},{"s":"d","x":6.8,"y":-7.1},
{"s":"d","x":-6.23,"y":-5.92},{"s":"d","x":-5.57,"y":-5.95},{"s":"d","x":-5.3,"y":-6.0},{"s":"d","x":-4.58,"y":-6.14},{"s":"d","x":-4.14,"y":-6.22},{"s":"d","x":-3.59,"y":-6.33},{"s":"d","x":-3.04,"y":-6.4},{"s":"d","x":-2.6,"y":-6.5},{"s":"d","x":-2.3,"y":-6.55},
{"s":"d","x":-2.0,"y":-6.6},{"s":"d","x":-1.8,"y":-6.64},{"s":"d","x":-1.6,"y":-6.67},{"s":"d","x":-1.4,"y":-6.71},{"s":"d","x":-1.2,"y":-6.74},{"s":"d","x":-1.0,"y":-6.78},{"s":"d","x":-0.8,"y":-6.81},{"s":"d","x":-0.6,"y":-6.85},{"s":"d","x":-0.4,"y":-6.88},{"s":"d","x":-0.2,"y":-6.92},{"s":"d","x":0,"y":-6.95},{"s":"d","x":0.2,"y":-7.0},{"s":"d","x":0.4,"y":-7.05},{"s":"d","x":0.6,"y":-7.1},{"s":"d","x":0.8,"y":-7.15},{"s":"d","x":1.0,"y":-7.2},{"s":"d","x":1.2,"y":-7.25},{"s":"d","x":1.4,"y":-7.3},{"s":"d","x":1.6,"y":-7.38},{"s":"d","x":1.8,"y":-7.47},{"s":"d","x":2.0,"y":-7.55},{"s":"d","x":2.2,"y":-7.59},{"s":"d","x":2.4,"y":-7.63},{"s":"d","x":2.6,"y":-7.67},{"s":"d","x":2.8,"y":-7.71},{"s":"d","x":3.0,"y":-7.75},{"s":"d","x":3.2,"y":-7.8},{"s":"d","x":3.4,"y":-7.84},{"s":"d","x":3.6,"y":-7.88},{"s":"d","x":3.8,"y":-7.92},{"s":"d","x":4.0,"y":-7.96},{"s":"d","x":4.2,"y":-8.0},{"s":"d","x":4.4,"y":-8.04},{"s":"d","x":4.6,"y":-8.08},{"s":"d","x":4.8,"y":-8.12},{"s":"d","x":5.0,"y":-8.16},{"s":"d","x":5.2,"y":-8.2},{"s":"d","x":5.4,"y":-8.25},{"s":"d","x":5.6,"y":-8.29},{"s":"d","x":5.8,"y":-8.33},{"s":"d","x":6.0,"y":-8.37},{"s":"d","x":6.2,"y":-8.41},{"s":"d","x":6.4,"y":-8.45},{"s":"d","x":6.6,"y":-8.5},{"s":"d","x":6.8,"y":-8.56},{"s":"d","x":7.0,"y":-8.61},{"s":"d","x":7.2,"y":-8.67},{"s":"d","x":7.4,"y":-8.72},{"s":"d","x":7.6,"y":-8.78},{"s":"d","x":7.8,"y":-8.84},{"s":"d","x":8.0,"y":-8.9},{"s":"d","x":8.2,"y":-8.96},{"s":"d","x":8.4,"y":-9.03},{"s":"d","x":8.64,"y":-9.1},
{"s":"d","x":-4.36,"y":-7.4},{"s":"d","x":-4.14,"y":-7.6},{"s":"d","x":-3.7,"y":-7.75},{"s":"d","x":-3.26,"y":-7.9},{"s":"d","x":-2.75,"y":-8.05},{"s":"d","x":-2.5,"y":-8.2},{"s":"d","x":-2.16,"y":-8.34},{"s":"d","x":-1.72,"y":-8.46},{"s":"d","x":-1.45,"y":-8.52},
{"s":"d","x":-1.2,"y":-8.58},{"s":"d","x":-1.0,"y":-8.67},{"s":"d","x":-0.8,"y":-8.76},{"s":"d","x":-0.6,"y":-8.85},{"s":"d","x":-0.4,"y":-8.91},{"s":"d","x":-0.2,"y":-8.97},{"s":"d","x":0,"y":-9.03},{"s":"d","x":0.2,"y":-9.08},{"s":"d","x":0.4,"y":-9.15},{"s":"d","x":0.6,"y":-9.23},{"s":"d","x":0.8,"y":-9.31},{"s":"d","x":1.0,"y":-9.39},{"s":"d","x":1.2,"y":-9.46},{"s":"d","x":1.4,"y":-9.54},{"s":"d","x":1.6,"y":-9.62},{"s":"d","x":1.8,"y":-9.71},{"s":"d","x":2.0,"y":-9.79},{"s":"d","x":2.2,"y":-9.88},{"s":"d","x":2.4,"y":-9.97},{"s":"d","x":2.6,"y":-10.06},{"s":"d","x":2.8,"y":-10.16},{"s":"d","x":3.0,"y":-10.27},{"s":"d","x":3.2,"y":-10.37},{"s":"d","x":3.4,"y":-10.48},{"s":"d","x":3.6,"y":-10.6},{"s":"d","x":3.8,"y":-10.72},{"s":"d","x":4.0,"y":-10.84},{"s":"d","x":4.2,"y":-10.95},{"s":"d","x":4.4,"y":-11.07},{"s":"d","x":4.6,"y":-11.18},{"s":"d","x":4.8,"y":-11.3},{"s":"d","x":5.0,"y":-11.41},{"s":"d","x":5.2,"y":-11.53},{"s":"d","x":5.4,"y":-11.66},{"s":"d","x":5.6,"y":-11.82},{"s":"d","x":5.8,"y":-11.99},{"s":"d","x":6.0,"y":-12.15},{"s":"d","x":6.2,"y":-12.31},{"s":"d","x":6.4,"y":-12.47},{"s":"d","x":6.6,"y":-12.62},{"s":"d","x":6.8,"y":-12.77},{"s":"d","x":7.0,"y":-12.92},{"s":"d","x":7.2,"y":-13.1},{"s":"d","x":7.4,"y":-13.31},{"s":"d","x":7.6,"y":-13.52},{"s":"d","x":7.8,"y":-13.73},{"s":"d","x":8.0,"y":-13.94},{"s":"d","x":8.1,"y":-14.05},
{"s":"d","x":-1.1,"y":-8.72},{"s":"d","x":-0.9,"y":-8.81},{"s":"d","x":-0.7,"y":-8.9},{"s":"d","x":-0.5,"y":-8.98},{"s":"d","x":-0.3,"y":-9.04},{"s":"d","x":-0.1,"y":-9.1},{"s":"d","x":0.1,"y":-9.16},{"s":"d","x":0.3,"y":-9.22},{"s":"d","x":0.5,"y":-9.29},{"s":"d","x":0.7,"y":-9.37},{"s":"d","x":0.9,"y":-9.45},{"s":"d","x":1.1,"y":-9.53},{"s":"d","x":1.3,"y":-9.6},{"s":"d","x":1.5,"y":-9.68},{"s":"d","x":1.7,"y":-9.77},{"s":"d","x":1.9,"y":-9.85},{"s":"d","x":2.1,"y":-9.94},{"s":"d","x":2.3,"y":-10.03},{"s":"d","x":2.5,"y":-10.12},{"s":"d","x":2.7,"y":-10.21},{"s":"d","x":2.9,"y":-10.32},{"s":"d","x":3.1,"y":-10.42},{"s":"d","x":3.3,"y":-10.53},{"s":"d","x":3.5,"y":-10.64},{"s":"d","x":3.7,"y":-10.76},{"s":"d","x":3.9,"y":-10.88},{"s":"d","x":4.1,"y":-11.0},{"s":"d","x":4.3,"y":-11.11},{"s":"d","x":4.5,"y":-11.23},{"s":"d","x":4.7,"y":-11.34},{"s":"d","x":4.9,"y":-11.46},{"s":"d","x":5.1,"y":-11.57},{"s":"d","x":5.3,"y":-11.7},{"s":"d","x":5.5,"y":-11.84},{"s":"d","x":5.7,"y":-12.0},{"s":"d","x":5.9,"y":-12.17},{"s":"d","x":6.1,"y":-12.33},{"s":"d","x":6.3,"y":-12.49},{"s":"d","x":6.5,"y":-12.65},{"s":"d","x":6.7,"y":-12.8},{"s":"d","x":6.9,"y":-12.95},{"s":"d","x":7.1,"y":-13.11},{"s":"d","x":7.3,"y":-13.31},{"s":"d","x":7.5,"y":-13.52},{"s":"d","x":7.7,"y":-13.73},{"s":"d","x":7.9,"y":-13.94}
]},
"mark":{"type":"point","filled":true,"opacity":1,"clip":true},
"encoding":{
"x":{"field":"x","type":"quantitative","scale":{"domain":[-8,14],"nice":false,"zero":false},
"axis":{"orient":"bottom","values":[-5,0,5,10],"title":"Eₐᵐ","grid":false,"domainColor":"black","tickColor":"black","tickSize":-4,"labelPadding":8,"labelFontSize":11.5,"labelColor":"black","labelFont":"DejaVu Sans","titleFont":"DejaVu Sans","titleFontSize":19,"titleFontWeight":"normal","titleFontStyle":"italic","titleColor":"black","titlePadding":0,"labelFlush":false}},
"y":{"field":"y","type":"quantitative","scale":{"domain":[-14,-3],"nice":false,"zero":false},
"axis":{"orient":"left","values":[-14,-12,-10,-8,-6,-4],"title":"ln(λₐ)","grid":false,"domainColor":"black","tickColor":"black","tickSize":-4,"labelPadding":9,"labelFontSize":11.5,"labelColor":"black","labelFont":"DejaVu Sans","titleFont":"DejaVu Sans","titleFontSize":19,"titleFontWeight":"normal","titleFontStyle":"italic","titleColor":"black","titlePadding":4,"labelFlush":false}},
"color":{"field":"s","type":"nominal","scale":{"domain":["a","b","c","d"],"range":["#0000ff","#ffa500","#008000","#ff0000"]},
"legend":{"orient":"top-right","offset":6,"title":null,"padding":8,"rowPadding":7,"strokeColor":"#cccccc","fillColor":"white","cornerRadius":3,"labelFontSize":11,"labelFont":"DejaVu Sans","labelFontStyle":"italic","labelColor":"black","labelOffset":12,
"labelExpr":"datum.value == 'a' ? 'ρ̂ᶜ(A)' : datum.value == 'b' ? 'Trʙ(ρ̂ᶜ)' : datum.value == 'c' ? 'Trʙ(ρ̂ᵈ)' : 'Trʙ(ρ̂ᵗ)'"}},
"shape":{"field":"s","type":"nominal","scale":{"domain":["a","b","c","d"],"range":["circle","M-1,-0.72L-0.72,-1L0,-0.28L0.72,-1L1,-0.72L0.28,0L1,0.72L0.72,1L0,0.28L-0.72,1L-1,0.72L-0.28,0Z","triangle-up","square"]}},
"size":{"field":"s","type":"nominal","scale":{"type":"ordinal","domain":["a","b","c","d"],"range":[45,85,55,25]}}
}
},
{
"data":{"values":[{"x":-7.05,"y":-12.95,"t":"β₀ = 0.4"},{"x":9.9,"y":-12.95,"t":"(b)"}]},
"mark":{"type":"text","align":"left","baseline":"middle","fontSize":18.5,"font":"DejaVu Sans","color":"black"},
"encoding":{
"x":{"field":"x","type":"quantitative","axis":{"orient":"top","labels":false,"title":null,"values":[-5,0,5,10],"grid":false,"domainColor":"black","tickColor":"black","tickSize":-4}},
"y":{"field":"y","type":"quantitative","axis":{"orient":"right","labels":false,"title":null,"values":[-14,-12,-10,-8,-6,-4],"grid":false,"domainColor":"black","tickColor":"black","tickSize":-4}},
"text":{"field":"t"}
}
}
]
}
